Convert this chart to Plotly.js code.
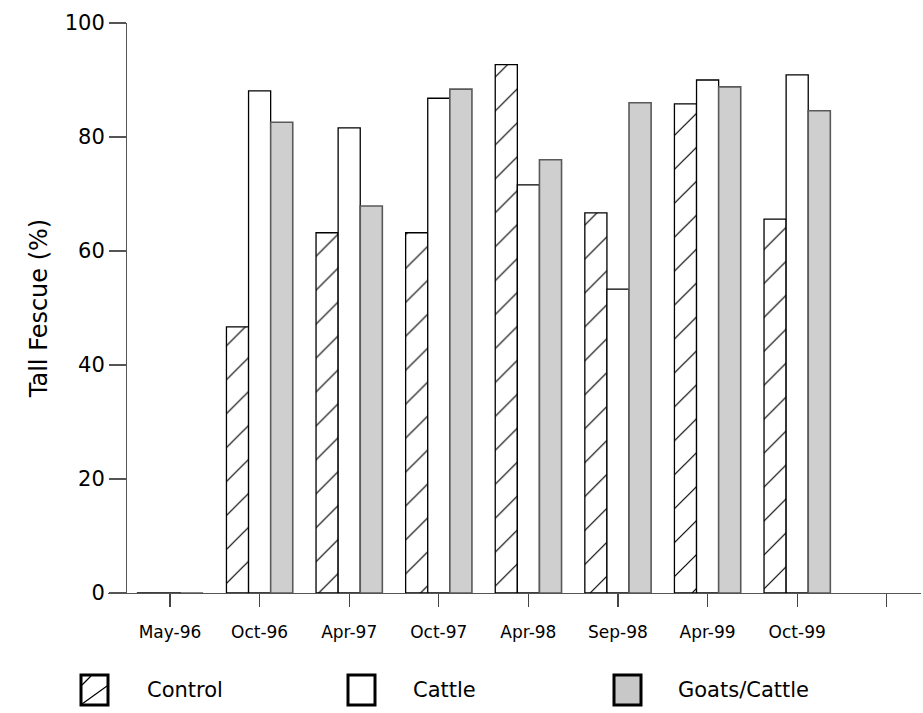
<!DOCTYPE html>
<html>
<head>
<meta charset="utf-8">
<script src="https://cdn.plot.ly/plotly-3.0.1.min.js"></script>
<style>html,body{margin:0;padding:0;background:#fff;}#chart{width:923px;height:713px;}</style>
</head>
<body>
<div id="chart"></div>
<script>
// ---- data ----
var categories = ["May-96", "Oct-96", "Apr-97", "Oct-97", "Apr-98", "Sep-98", "Apr-99", "Oct-99", ""];
var seriesNames = ["Control", "Cattle", "Goats/Cattle"];
var controlVals = [0, 46.7, 63.2, 63.2, 92.7, 66.7, 85.8, 65.6];
var cattleVals  = [0, 88.1, 81.6, 86.8, 71.6, 53.3, 90.0, 90.9];
var goatsVals   = [0, 82.6, 67.9, 88.4, 76.0, 86.0, 88.8, 84.6];
var yTicks = [0, 20, 40, 60, 80, 100];

// ---- geometry helpers (pixel -> paper) ----
var W = 923, H = 713;
var mL = 108, mR = 2, mT = 23, mB = 120;
var plotW = W - mL - mR, plotH = H - mT - mB;
function px(x) { return (x - mL) / plotW; }
function py(y) { return (H - mB - y) / plotH; }

var xIdx = controlVals.map(function (_, i) { return i; });
var FONT = "DejaVu Sans, Verdana, sans-serif";

var traces = [
  {
    type: "bar", name: seriesNames[0], x: xIdx, y: controlVals,
    marker: {
      color: "#ffffff",
      line: {color: "#000000", width: 1.3},
      pattern: {shape: "/", fgcolor: "#000000", bgcolor: "#ffffff", size: 24, solidity: 0.05}
    }
  },
  {
    type: "bar", name: seriesNames[1], x: xIdx, y: cattleVals,
    marker: {color: "#ffffff", line: {color: "#000000", width: 1.3}}
  },
  {
    type: "bar", name: seriesNames[2], x: xIdx, y: goatsVals,
    marker: {color: "#cfcfcf", line: {color: "#5a5a5a", width: 1.6}}
  }
];

// custom legend (boxes + labels) below the axis
var legendItems = [
  {bx: 81, tx: 145, fill: "#ffffff", hatch: true},
  {bx: 348, tx: 411, fill: "#ffffff", hatch: false},
  {bx: 614, tx: 676, fill: "#c8c8c8", hatch: false}
];
var boxW = 27, boxTop = 675, boxBot = 705;
var shapes = [], annotations = [];
legendItems.forEach(function (it, k) {
  shapes.push({
    type: "rect", xref: "paper", yref: "paper",
    x0: px(it.bx), x1: px(it.bx + boxW), y0: py(boxBot), y1: py(boxTop),
    fillcolor: it.fill, line: {color: "#000000", width: 3}
  });
  if (it.hatch) {
    shapes.push({type: "line", xref: "paper", yref: "paper",
      x0: px(it.bx + 1), y0: py(boxBot - 1), x1: px(it.bx + boxW - 1), y1: py(boxTop + 11),
      line: {color: "#000000", width: 1.2}});
    shapes.push({type: "line", xref: "paper", yref: "paper",
      x0: px(it.bx + 1), y0: py(boxTop + 10), x1: px(it.bx + 10), y1: py(boxTop + 1),
      line: {color: "#000000", width: 1.2}});
  }
  annotations.push({
    xref: "paper", yref: "paper", x: px(it.tx), y: py((boxTop + boxBot) / 2),
    xanchor: "left", yanchor: "middle", showarrow: false,
    text: seriesNames[k], font: {family: FONT, size: 21, color: "#000000"}
  });
});

var layout = {
  width: W, height: H,
  margin: {l: mL, r: mR, t: mT, b: mB, pad: 0},
  paper_bgcolor: "#ffffff", plot_bgcolor: "#ffffff",
  showlegend: false,
  barmode: "group", bargap: 0.26, bargroupgap: 0,
  font: {family: FONT, color: "#000000"},
  xaxis: {
    type: "linear",
    range: [-0.692, 8.382],
    tickmode: "array",
    tickvals: categories.map(function (_, i) { return i; }),
    ticktext: categories,
    ticks: "outside", ticklen: 13, tickwidth: 1.3, tickcolor: "#444444",
    ticklabelstandoff: 10,
    showline: true, linecolor: "#555555", linewidth: 1.3,
    showgrid: false, zeroline: false,
    tickfont: {family: FONT, size: 17, color: "#000000"}
  },
  yaxis: {
    range: [0, 100],
    anchor: "free", position: 18 / plotW,
    tickmode: "array", tickvals: yTicks,
    ticks: "outside", ticklen: 17, tickwidth: 1.3, tickcolor: "#555555",
    showline: true, linecolor: "#555555", linewidth: 1.3,
    showgrid: false, zeroline: false,
    tickfont: {family: FONT, size: 21, color: "#000000"},
    title: {text: "Tall Fescue (%)", font: {family: FONT, size: 24, color: "#000000"}, standoff: 9}
  },
  shapes: shapes,
  annotations: annotations
};

Plotly.newPlot("chart", traces, layout, {displayModeBar: false, staticPlot: true});
</script>
</body>
</html>
